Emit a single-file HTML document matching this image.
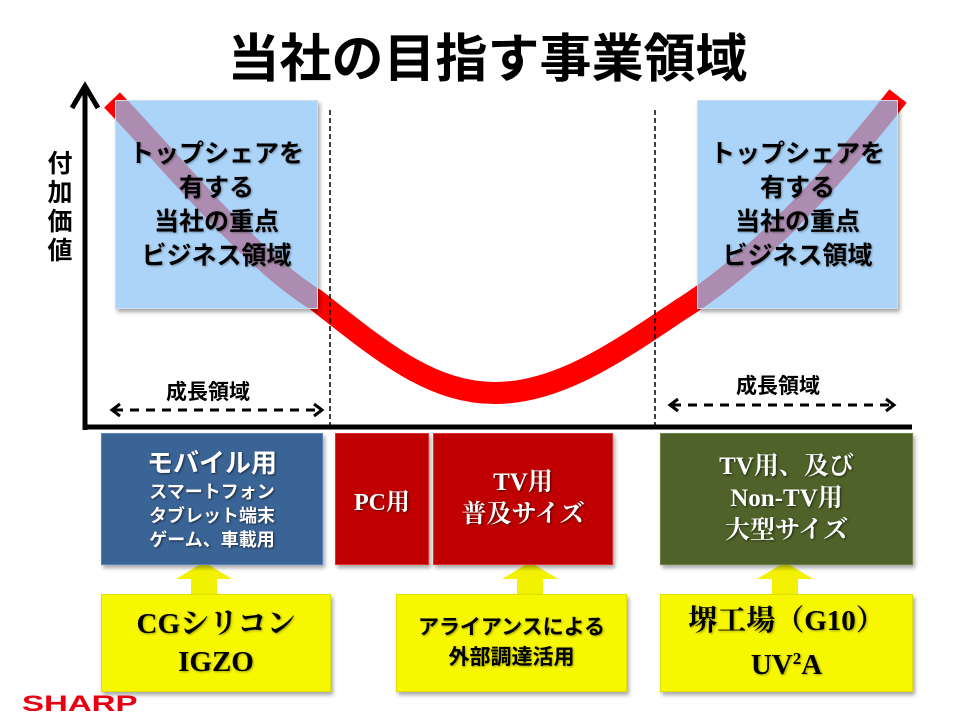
<!DOCTYPE html>
<html><head><meta charset="utf-8"><style>
body{margin:0;width:960px;height:720px;background:#fff;position:relative;overflow:hidden;font-family:"Liberation Sans","Noto Sans CJK JP",sans-serif}
.a{position:absolute}
.box{position:absolute;display:flex;flex-direction:column;align-items:center;justify-content:center;text-align:center;font-weight:bold;box-shadow:2px 3px 4px rgba(0,0,0,.35)}
.box div{white-space:nowrap}
.w{color:#fff;text-shadow:1px 1px 2px rgba(0,0,0,.6)}
.k{color:#000;text-shadow:1px 1px 2px rgba(0,0,0,.35)}
.serif{font-family:"Liberation Serif","Noto Serif CJK SC","Noto Sans CJK JP",serif}
</style></head><body>
<div class="a" style="left:0;top:28px;width:975px;text-align:center;font-size:52px;font-weight:bold;line-height:64px">当社の目指す事業領域</div>

<svg class="a" style="left:0;top:0" width="960" height="720">
  <path d="M112,100 C170,160 250,260 316,300 C380,350 430,393 495,393 C560,393 620,350 680,310 C760,260 840,170 898,96" stroke="#ff0000" stroke-width="22" fill="none"/>
  <line x1="85" y1="90" x2="85" y2="430" stroke="#000" stroke-width="5"/>
  <polyline points="72,108 85,86 98,108" stroke="#000" stroke-width="5" fill="none"/>
  <line x1="83" y1="427" x2="912" y2="427" stroke="#000" stroke-width="5"/>
  <line x1="330" y1="110" x2="330" y2="428" stroke="#000" stroke-width="1.5" stroke-dasharray="5,3"/>
  <line x1="655" y1="110" x2="655" y2="428" stroke="#000" stroke-width="1.5" stroke-dasharray="5,3"/>
  <line x1="114" y1="410" x2="320" y2="410" stroke="#000" stroke-width="3" stroke-dasharray="9,7"/>
  <polyline points="120,404 112,410 120,416" stroke="#000" stroke-width="3" fill="none"/>
  <polyline points="314,404 322,410 314,416" stroke="#000" stroke-width="3" fill="none"/>
  <line x1="672" y1="405" x2="892" y2="405" stroke="#000" stroke-width="3" stroke-dasharray="9,7"/>
  <polyline points="678,399 670,405 678,411" stroke="#000" stroke-width="3" fill="none"/>
  <polyline points="886,399 894,405 886,411" stroke="#000" stroke-width="3" fill="none"/>
  <g fill="#f2f200">
    <polygon points="176,579 204,562 232,579 217,579 217,596 191,596 191,579"/>
    <polygon points="502,579 530,562 558,579 543,579 543,596 517,596 517,579"/>
    <polygon points="757,579 785,562 813,579 798,579 798,596 772,596 772,579"/>
  </g>
</svg>

<div class="a" style="left:46px;top:150px;width:28px;font-size:25px;font-weight:bold;line-height:29px;text-align:center">付<br>加<br>価<br>値</div>

<div class="box k" style="left:115px;top:100px;width:201px;height:207px;background:rgba(140,195,245,.72);font-size:25px;line-height:34px;border:1px solid #cde"><div>トップシェアを</div><div>有する</div><div>当社の重点</div><div>ビジネス領域</div></div>
<div class="box k" style="left:697px;top:100px;width:199px;height:207px;background:rgba(140,195,245,.72);font-size:25px;line-height:34px;border:1px solid #cde"><div>トップシェアを</div><div>有する</div><div>当社の重点</div><div>ビジネス領域</div></div>

<div class="a" style="left:148px;top:376px;width:120px;text-align:center;font-size:21px;font-weight:bold">成長領域</div>
<div class="a" style="left:718px;top:370px;width:120px;text-align:center;font-size:21px;font-weight:bold">成長領域</div>

<div class="box w" style="left:101px;top:433px;width:220px;height:130px;background:#3b6496;border:1px solid #5a82b8;font-size:18px;line-height:24px"><div style="font-size:26px;line-height:34px">モバイル用</div><div>スマートフォン</div><div>タブレット端末</div><div>ゲーム、車載用</div></div>
<div class="box w serif" style="left:335px;top:433px;width:92px;height:130px;background:#c00000;border:1px solid #e03030;font-size:24px"><div>PC用</div></div>
<div class="box w serif" style="left:433px;top:433px;width:178px;height:130px;background:#c00000;border:1px solid #e03030;font-size:25px;line-height:32px"><div>TV用</div><div>普及サイズ</div></div>
<div class="box w serif" style="left:660px;top:433px;width:251px;height:130px;background:#4f6229;border:1px solid #6c7f45;font-size:25px;line-height:32px"><div>TV用、及び</div><div>Non-TV用</div><div>大型サイズ</div></div>

<div class="box k serif" style="left:101px;top:594px;width:228px;height:96px;background:#f7f700;border:1px solid #e0e000;font-size:29px;line-height:38px"><div>CGシリコン</div><div>IGZO</div></div>
<div class="box k" style="left:396px;top:594px;width:229px;height:96px;background:#f7f700;border:1px solid #e0e000;font-size:21px;line-height:30px"><div>アライアンスによる</div><div>外部調達活用</div></div>
<div class="box k serif" style="left:660px;top:594px;width:251px;height:96px;background:#f7f700;border:1px solid #e0e000;font-size:29px;line-height:38px"><div>堺工場（G10）</div><div>UV<span style="font-size:17px;vertical-align:10px">2</span>A</div></div>

<div class="a" style="left:22px;top:691px;font-size:22px;font-weight:900;color:#e60012;font-family:'Liberation Sans',sans-serif;transform:scaleX(1.5);transform-origin:left;line-height:26px">SHARP</div>
</body></html>
